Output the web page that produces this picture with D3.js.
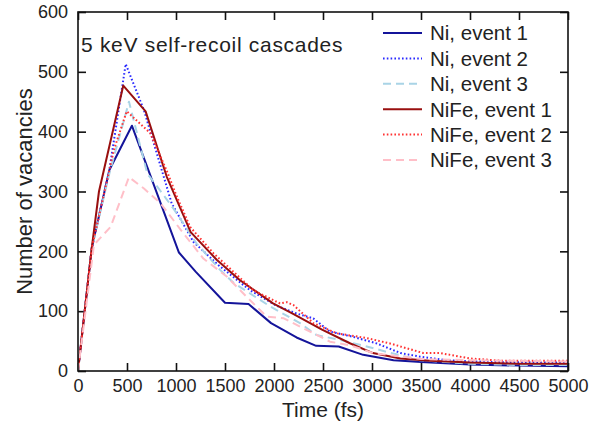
<!DOCTYPE html>
<html><head><meta charset="utf-8">
<script src="https://cdn.jsdelivr.net/npm/d3@7"></script>
<style>body{margin:0;background:#fff}svg{display:block}text{font-family:"Liberation Sans",Arial,sans-serif;fill:#222}</style>
</head><body>
<div id="chart"></div>
<script>
// ---- data (time in fs, number of vacancies) ----
const ni1 = [[0,0],[140,205],[320,336],[550,410],[1030,198],[1200,166],[1500,114],[1740,112],[1970,80],[2230,56],[2430,42],[2660,41],[2910,27],[3220,18],[3500,15],[4000,11],[4500,9],[5000,8]];
const ni2 = [[0,0],[140,205],[320,336],[487,513],[673,436],[956,280],[1177,216],[1432,177],[1755,135],[2027,109],[2231,96],[2400,88],[2570,66],[2810,57],[3050,46],[3290,30],[3490,24],[3760,18],[4200,15],[5000,14]];
const ni3 = [[0,0],[140,205],[320,330],[520,450],[707,330],[860,297],[980,270],[1210,213],[1450,169],[1590,147],[1960,108],[2265,80],[2435,60],[2673,52],[2946,41],[3150,32],[3490,18],[4000,12],[4500,10],[5000,10]];
const nife1 = [[0,0],[140,205],[214,300],[462,477],[690,434],[905,325],[1150,232],[1415,186],[1650,152],[1990,113],[2200,95],[2490,69],[2780,46],[3010,30],[3290,21],[3590,17],[4000,14],[4500,12],[5000,12]];
const nife2 = [[0,0],[140,205],[367,370],[497,434],[735,398],[905,335],[1000,295],[1143,241],[1381,197],[1789,135],[2061,113],[2130,115],[2200,110],[2401,80],[2640,63],[2946,55],[3184,46],[3524,30],[3694,30],[4000,21],[4337,17],[5000,17]];
const nife3 = [[0,0],[163,211],[333,241],[520,324],[673,305],[844,280],[1048,236],[1279,188],[1517,158],[1721,124],[1925,91],[2100,88],[2231,77],[2367,66],[2571,49],[2776,43],[3010,30],[3500,20],[4000,18],[5000,16]];

const seriesNames = ["Ni, event 1","Ni, event 2","Ni, event 3","NiFe, event 1","NiFe, event 2","NiFe, event 3"];
const seriesData = [ni1, ni2, ni3, nife1, nife2, nife3];
const xTicks = [0,500,1000,1500,2000,2500,3000,3500,4000,4500,5000];
const yTicks = [0,100,200,300,400,500,600];
const titleText = "5 keV self-recoil cascades";
const xLabel = "Time (fs)";
const yLabel = "Number of vacancies";

// ---- styles ----
const styles = [
  {color:"#14149a", dash:null, w:2},
  {color:"#2a2aff", dash:"1.6,2.2", w:2},
  {color:"#a9d4e6", dash:"8,5", w:2},
  {color:"#990f0f", dash:null, w:2},
  {color:"#ff3333", dash:"1.6,2.2", w:2},
  {color:"#ffbfc8", dash:"8,5", w:2}
];

const W = 596, H = 426;
const m = {left:78, right:W-568, top:12, bottom:H-371};
const svg = d3.select("#chart").append("svg").attr("width",W).attr("height",H);

const x = d3.scaleLinear().domain([0,5000]).range([m.left, W-m.right]);
const y = d3.scaleLinear().domain([0,600]).range([H-m.bottom, m.top]);
const fmt = d3.format("d");

const tickLen = 8;
const styleAxis = g=>{g.select(".domain").remove();g.selectAll("line").attr("stroke","#111").attr("stroke-width",1.6);
    g.selectAll("text").attr("font-size",18).attr("fill","#222").attr("font-family","Liberation Sans, Arial, sans-serif");};
// bottom axis (ticks inward)
svg.append("g").attr("transform",`translate(0,${y(0)})`)
  .call(d3.axisBottom(x).tickValues(xTicks).tickFormat(fmt).tickSizeInner(-tickLen).tickSizeOuter(0).tickPadding(8))
  .call(styleAxis);
// top axis mirror ticks
svg.append("g").attr("transform",`translate(0,${y(600)})`)
  .call(d3.axisTop(x).tickValues(xTicks).tickSizeInner(-tickLen).tickSizeOuter(0).tickFormat(""))
  .call(styleAxis);
// left axis
svg.append("g").attr("transform",`translate(${x(0)},0)`)
  .call(d3.axisLeft(y).tickValues(yTicks).tickFormat(fmt).tickSizeInner(-tickLen).tickSizeOuter(0).tickPadding(10))
  .call(styleAxis);
// right axis mirror
svg.append("g").attr("transform",`translate(${x(5000)},0)`)
  .call(d3.axisRight(y).tickValues(yTicks).tickSizeInner(-tickLen).tickSizeOuter(0).tickFormat(""))
  .call(styleAxis);

// clip
svg.append("clipPath").attr("id","clip").append("rect")
  .attr("x",x(0)).attr("y",y(600)).attr("width",x(5000)-x(0)).attr("height",y(0)-y(600));

const line = d3.line().x(d=>x(d[0])).y(d=>y(d[1]));
const lg = svg.append("g").attr("clip-path","url(#clip)");
seriesData.forEach((data,i)=>{
  lg.append("path").datum(data).attr("d",line).attr("fill","none")
    .attr("stroke",styles[i].color).attr("stroke-width",styles[i].w)
    .attr("stroke-dasharray",styles[i].dash).attr("stroke-linejoin","round");
});

// frame
svg.append("rect").attr("x",x(0)).attr("y",y(600)).attr("width",x(5000)-x(0)).attr("height",y(0)-y(600))
  .attr("fill","none").attr("stroke","#111").attr("stroke-width",1.6);

// title
svg.append("text").attr("x",81).attr("y",52).attr("font-size",21).attr("letter-spacing",0.7).text(titleText);

// legend
const leg = svg.append("g");
seriesNames.forEach((name,i)=>{
  const yy = 33 + i*25.4;
  leg.append("line").attr("x1",383).attr("x2",422).attr("y1",yy).attr("y2",yy)
    .attr("stroke",styles[i].color).attr("stroke-width",styles[i].w).attr("stroke-dasharray",styles[i].dash);
  leg.append("text").attr("x",430).attr("y",yy).attr("dy","0.36em").attr("font-size",20.5).text(name);
});

// axis labels
svg.append("text").attr("x",(x(0)+x(5000))/2).attr("y",417).attr("text-anchor","middle").attr("font-size",21).text(xLabel);
svg.append("text").attr("transform",`translate(32,${(y(0)+y(600))/2}) rotate(-90)`).attr("text-anchor","middle").attr("font-size",22).text(yLabel);
</script>
</body></html>
